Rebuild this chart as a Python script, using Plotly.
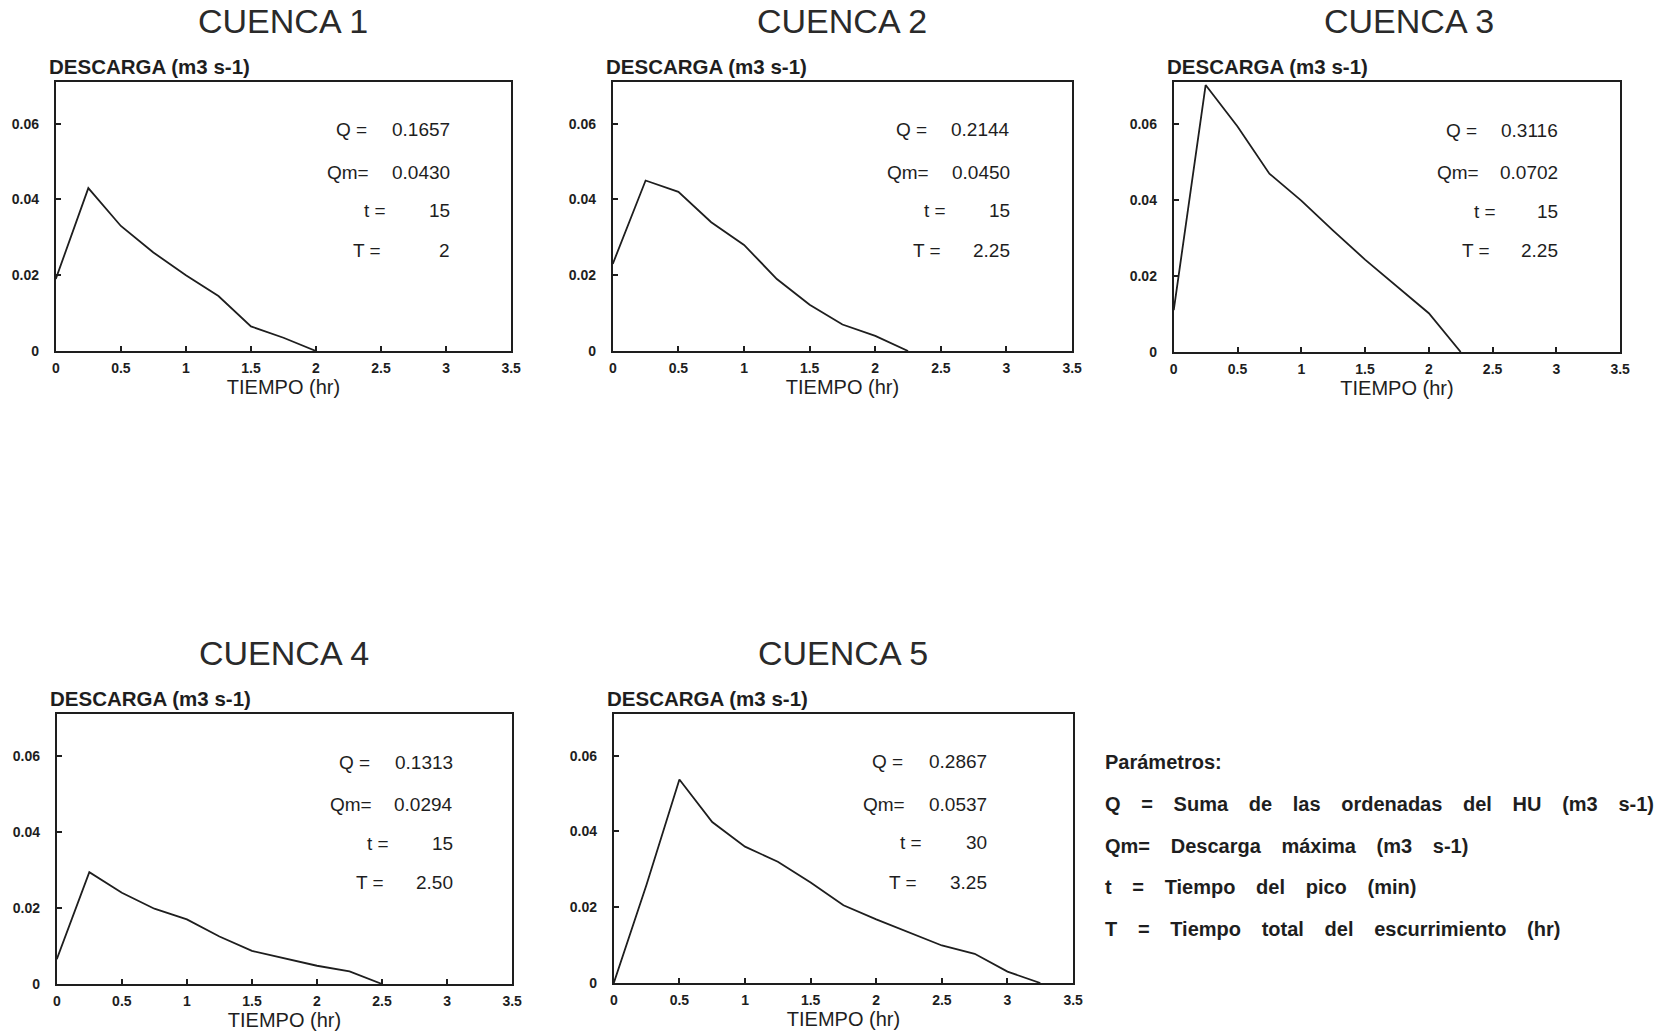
import plotly.graph_objects as go

# ---------------- data ----------------
cuencas = ["CUENCA 1", "CUENCA 2", "CUENCA 3", "CUENCA 4", "CUENCA 5"]

time_c1 = [0, 0.25, 0.5, 0.75, 1.0, 1.25, 1.5, 1.75, 2.0]
q_c1 = [0.019, 0.043, 0.033, 0.026, 0.020, 0.0145, 0.0065, 0.0035, 0.0]

time_c2 = [0, 0.25, 0.5, 0.75, 1.0, 1.25, 1.5, 1.75, 2.0, 2.25]
q_c2 = [0.023, 0.045, 0.042, 0.034, 0.028, 0.019, 0.0122, 0.007, 0.004, 0.0]

time_c3 = [0, 0.25, 0.5, 0.75, 1.0, 1.25, 1.5, 1.75, 2.0, 2.25]
q_c3 = [0.011, 0.0702, 0.0593, 0.0469, 0.0398, 0.0319, 0.0243, 0.0173, 0.0102, 0.0]

time_c4 = [0, 0.25, 0.5, 0.75, 1.0, 1.25, 1.5, 1.75, 2.0, 2.25, 2.5]
q_c4 = [0.0065, 0.0294, 0.024, 0.0198, 0.017, 0.0125, 0.0087, 0.0068, 0.0048, 0.0033, 0.0]

time_c5 = [0, 0.25, 0.5, 0.75, 1.0, 1.25, 1.5, 1.75, 2.0, 2.25, 2.5, 2.75, 3.0, 3.25]
q_c5 = [0.0, 0.026, 0.0537, 0.0425, 0.036, 0.032, 0.0265, 0.0205, 0.0168, 0.0134, 0.0099, 0.0077, 0.003, 0.0]

Q_vals = ["0.1657", "0.2144", "0.3116", "0.1313", "0.2867"]
Qm_vals = ["0.0430", "0.0450", "0.0702", "0.0294", "0.0537"]
t_vals = ["15", "15", "15", "15", "30"]
T_vals = ["2", "2.25", "2.25", "2.50", "3.25"]

x_tickvals = [0, 0.5, 1, 1.5, 2, 2.5, 3, 3.5]
x_ticktext = ["0", "0.5", "1", "1.5", "2", "2.5", "3", "3.5"]
y_tickvals = [0, 0.02, 0.04, 0.06]
y_ticktext = ["0", "0.02", "0.04", "0.06"]

legend_title = "Parámetros:"
legend_lines = [
    ["Q", "=", "Suma", "de", "las", "ordenadas", "del", "HU", "(m3", "s-1)"],
    ["Qm=", "Descarga", "máxima", "(m3", "s-1)"],
    ["t", "=", "Tiempo", "del", "pico", "(min)"],
    ["T", "=", "Tiempo", "total", "del", "escurrimiento", "(hr)"],
]

# ---------------- layout ----------------
W, H = 1665, 1032
# effective drawing size used to turn pixel targets into fractions
WE, HE = 1657, 1024
# pixel boxes (left, right, top, bottom)
boxes = [
    (52, 509, 82, 351),
    (611, 1072, 82, 351),
    (1174, 1622, 82, 352),
    (53, 510, 714, 984),
    (612, 1073, 714, 983),
]
val_x = [0.87, 0.87, 0.866, 0.874, 0.816]
title_dx = [0, 0, 12, 0, 0]

series = [(time_c1, q_c1), (time_c2, q_c2), (time_c3, q_c3), (time_c4, q_c4), (time_c5, q_c5)]

INK = "#1e1e1e"
FONT = "Liberation Sans, Arial, sans-serif"

fig = go.Figure()
annotations = []
layout_axes = {}

for i, ((tx, qy), box) in enumerate(zip(series, boxes)):
    n = i + 1
    xa = "x" if n == 1 else f"x{n}"
    ya = "y" if n == 1 else f"y{n}"
    fig.add_trace(go.Scatter(x=tx, y=qy, mode="lines",
                             line=dict(color=INK, width=1.8),
                             xaxis=xa, yaxis=ya, showlegend=False,
                             hoverinfo="x+y"))
    l, r, t, b = box
    xdom = [l / WE, r / WE]
    ydom = [1 - b / HE, 1 - t / HE]
    common = dict(showgrid=False, zeroline=False, showline=True, mirror=True,
                  linecolor=INK, linewidth=2, ticks="inside", ticklen=5,
                  tickwidth=1.5, tickcolor=INK,
                  tickfont=dict(family=FONT, size=14, color=INK, weight="bold"))
    layout_axes["xaxis" if n == 1 else f"xaxis{n}"] = dict(
        common, domain=xdom, range=[0, 3.5], tickmode="array",
        tickvals=x_tickvals, ticktext=x_ticktext, anchor=ya,
        ticklabelstandoff=3,
        title=dict(text="TIEMPO (hr)", standoff=5,
                   font=dict(family=FONT, size=20, color=INK)))
    layout_axes["yaxis" if n == 1 else f"yaxis{n}"] = dict(
        common, domain=ydom, range=[0, 0.071], tickmode="array",
        tickvals=y_tickvals, ticktext=y_ticktext, anchor=xa,
        ticklabelstandoff=12)

    xd = f"{xa} domain"
    yd = f"{ya} domain"
    # Title
    annotations.append(dict(text=cuencas[i], xref=xd, yref=yd, x=0.5, y=1,
                            xshift=title_dx[i], yshift=61,
                            xanchor="center", yanchor="middle",
                            showarrow=False,
                            font=dict(family=FONT, size=34, color="#2a2a2a")))
    # y axis title
    annotations.append(dict(text="<b>DESCARGA (m3 s-1)</b>", xref=xd, yref=yd,
                            x=-0.02, y=1, yshift=2, xanchor="left", yanchor="bottom",
                            showarrow=False,
                            font=dict(family=FONT, size=20.5, color=INK)))
    # parameter block
    labels = ["Q =", "Qm=", "t =", "T ="]
    values = [Q_vals[i], Qm_vals[i], t_vals[i], T_vals[i]]
    ys = [0.822, 0.664, 0.522, 0.375]
    lab_off = [0.182, 0.178, 0.14, 0.152]
    for lab, val, yy, off in zip(labels, values, ys, lab_off):
        annotations.append(dict(text=lab, xref=xd, yref=yd, x=val_x[i] - off, y=yy,
                                xanchor="right", yanchor="middle", showarrow=False,
                                font=dict(family=FONT, size=19, color=INK)))
        annotations.append(dict(text=val, xref=xd, yref=yd, x=val_x[i], y=yy,
                                xanchor="right", yanchor="middle", showarrow=False,
                                font=dict(family=FONT, size=19, color=INK)))

# legend block (paper coords)
GAP = "\u00a0" * 3 + "\u2009"
leg_x = 1103 / WE
leg_ys = [762, 804, 846, 887, 929]
leg_texts = [legend_title] + [GAP.join(words) for words in legend_lines]
for txt, py in zip(leg_texts, leg_ys):
    annotations.append(dict(text=txt, xref="paper", yref="paper",
                            x=leg_x, y=1 - py / HE, xanchor="left", yanchor="middle",
                            showarrow=False,
                            font=dict(family=FONT, size=20, color=INK, weight="bold")))

fig.update_layout(width=W, height=H, autosize=False,
                  margin=dict(l=0, r=0, t=0, b=0, pad=0),
                  paper_bgcolor="white", plot_bgcolor="white",
                  annotations=annotations, **layout_axes)

fig.write_html("out.html")
